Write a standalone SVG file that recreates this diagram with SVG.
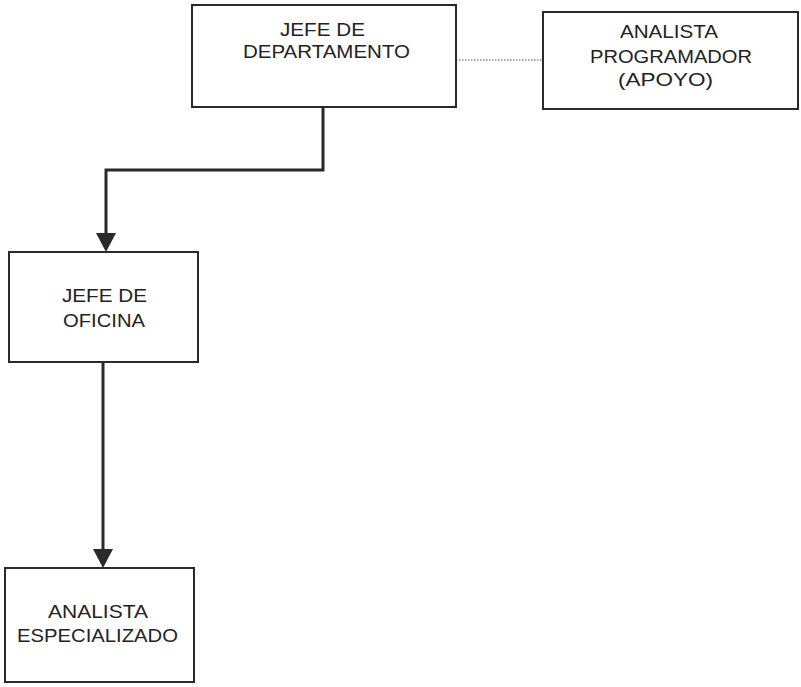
<svg xmlns="http://www.w3.org/2000/svg" width="801" height="687" viewBox="0 0 801 687">
<style>
.box{fill:#fff;stroke:#2a2a2a;stroke-width:2}
.t{font-family:"Liberation Sans",Arial,sans-serif;font-size:17.5px;fill:#222;text-anchor:middle}
.conn{fill:none;stroke:#2a2a2a;stroke-width:3}
.dot{fill:none;stroke:#555;stroke-width:1.2;stroke-dasharray:1.5 1.5}
</style>
<rect width="801" height="687" fill="#fff"/>
<g id="connectors">
<path class="dot" d="M456 60 H543"/>
<path class="conn" d="M323 107 V170 H106 V236"/>
<path d="M96 233 L116 233 L106 252 Z" fill="#2a2a2a"/>
<path class="conn" d="M103 362 V552"/>
<path d="M93 549 L113 549 L103 568 Z" fill="#2a2a2a"/>
</g>
<g id="jefe-departamento">
<rect class="box" x="192" y="5" width="264" height="102"/>
<text class="t" x="322.5" y="36" textLength="85" lengthAdjust="spacingAndGlyphs">JEFE DE</text>
<text class="t" x="326.5" y="58" textLength="167" lengthAdjust="spacingAndGlyphs">DEPARTAMENTO</text>
</g>
<g id="analista-programador">
<rect class="box" x="543" y="12" width="255" height="97"/>
<text class="t" x="669" y="38" textLength="98" lengthAdjust="spacingAndGlyphs">ANALISTA</text>
<text class="t" x="671" y="63" textLength="162" lengthAdjust="spacingAndGlyphs">PROGRAMADOR</text>
<text class="t" x="665.5" y="86" textLength="95" lengthAdjust="spacingAndGlyphs">(APOYO)</text>
</g>
<g id="jefe-oficina">
<rect class="box" x="9" y="252" width="189" height="110"/>
<text class="t" x="104.5" y="302" textLength="85" lengthAdjust="spacingAndGlyphs">JEFE DE</text>
<text class="t" x="104" y="327" textLength="82" lengthAdjust="spacingAndGlyphs">OFICINA</text>
</g>
<g id="analista-especializado">
<rect class="box" x="5" y="568" width="189" height="114"/>
<text class="t" x="98" y="618" textLength="100" lengthAdjust="spacingAndGlyphs">ANALISTA</text>
<text class="t" x="97.5" y="642" textLength="161" lengthAdjust="spacingAndGlyphs">ESPECIALIZADO</text>
</g>
</svg>
